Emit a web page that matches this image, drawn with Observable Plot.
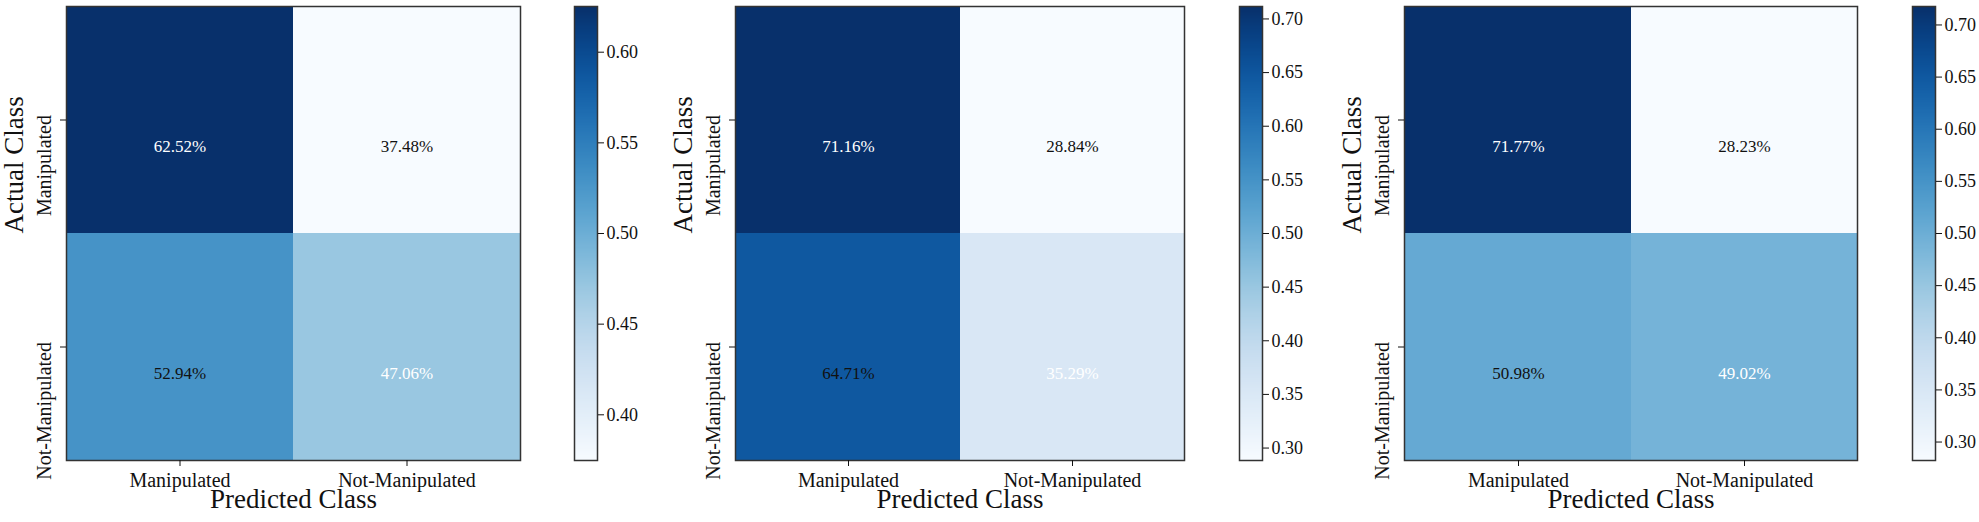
<!DOCTYPE html>
<html>
<head>
<meta charset="utf-8">
<script src="https://cdn.jsdelivr.net/npm/d3@7"></script>
<script src="https://cdn.jsdelivr.net/npm/@observablehq/plot@0.6"></script>
<style>
  html, body { margin: 0; padding: 0; background: #fff; }
  #chart { position: relative; width: 1979px; height: 522px; overflow: hidden; background: #fff; }
  #chart svg { position: absolute; top: 0; overflow: visible; }
</style>
</head>
<body>
<div id="chart"></div>
<script>
// ---- data ----
const classes = ["Manipulated", "Not-Manipulated"];
// row-major: [actual][predicted]
const matrixA = [0.6252, 0.3748, 0.5294, 0.4706];
const matrixB = [0.7116, 0.2884, 0.6471, 0.3529];
const matrixC = [0.7177, 0.2823, 0.5098, 0.4902];
const ticksA = [0.40, 0.45, 0.50, 0.55, 0.60];
const ticksB = [0.30, 0.35, 0.40, 0.45, 0.50, 0.55, 0.60, 0.65, 0.70];
const ticksC = [0.30, 0.35, 0.40, 0.45, 0.50, 0.55, 0.60, 0.65, 0.70];
const xTitle = "Predicted Class";
const yTitle = "Actual Class";

// ---- layout ----
const layout = [
  {values: matrixA, ticks: ticksA, left: 66, w: 454, cbLeft: 574},
  {values: matrixB, ticks: ticksB, left: 735, w: 449, cbLeft: 1239},
  {values: matrixC, ticks: ticksC, left: 1404, w: 453, cbLeft: 1912}
];
const font = "'Liberation Serif', 'Times New Roman', Times, serif";
const fmt = d3.format(".2%");
const H = 522, MT = 6, MB = 62, ML = 66, MR = 10;

const root = document.getElementById("chart");

for (const p of layout) {
  const data = [];
  classes.forEach((a, i) => classes.forEach((c, j) =>
    data.push({actual: a, predicted: c, value: p.values[i * classes.length + j]})));
  const ext = d3.extent(p.values);

  const heat = Plot.plot({
    width: ML + p.w + MR, height: H,
    marginLeft: ML, marginRight: MR, marginTop: MT, marginBottom: MB,
    style: {fontFamily: font, fontSize: "20px", color: "#111", background: "transparent", overflow: "visible"},
    x: {type: "band", domain: classes, padding: 0, label: null},
    y: {type: "band", domain: classes, padding: 0, label: null},
    color: {type: "linear", scheme: "blues", domain: ext},
    marks: [
      Plot.cell(data, {x: "predicted", y: "actual", fill: "value", inset: 0}),
      Plot.text(data.filter(d => d.actual === d.predicted), {x: "predicted", y: "actual", text: d => fmt(d.value), fill: "white", fontSize: 17, dy: 27}),
      Plot.text(data.filter(d => d.actual !== d.predicted), {x: "predicted", y: "actual", text: d => fmt(d.value), fill: "#111", fontSize: 17, dy: 27}),
      Plot.frame({stroke: "#333", strokeWidth: 1.5}),
      Plot.axisX({tickSize: 6, tickPadding: 6, label: null, fontSize: 20}),
      Plot.axisY({tickSize: 6, tickFormat: () => "", label: null}),
      Plot.text(classes, {y: d => d, text: d => d, frameAnchor: "left", rotate: -90, textAnchor: "end", dx: -22, dy: -5, fontSize: 20}),
      Plot.text([yTitle], {text: d => d, frameAnchor: "left", rotate: -90, dx: -52, fontSize: 27}),
      Plot.text([xTitle], {text: d => d, frameAnchor: "bottom", dy: 47, fontSize: 27})
    ]
  });
  heat.style.left = (p.left - ML) + "px";
  root.appendChild(heat);

  const cbW = 23;
  const bar = Plot.plot({
    width: cbW + 60, height: H,
    marginLeft: 0, marginRight: 60, marginTop: MT, marginBottom: MB,
    style: {fontFamily: font, fontSize: "18px", color: "#111", background: "transparent", overflow: "visible"},
    x: {domain: [0, 1], axis: null},
    y: {domain: ext, axis: null},
    color: {type: "linear", scheme: "blues", domain: ext},
    marks: [
      Plot.raster({fill: (x, y) => y, x1: 0, x2: 1, y1: ext[0], y2: ext[1], width: 2, height: 400, imageRendering: "auto"}),
      Plot.frame({stroke: "#333", strokeWidth: 1.5}),
      Plot.axisY(p.ticks, {anchor: "right", tickSize: 6, tickPadding: 3, tickFormat: d3.format(".2f"), label: null})
    ]
  });
  bar.style.left = p.cbLeft + "px";
  root.appendChild(bar);
}
</script>
</body>
</html>
